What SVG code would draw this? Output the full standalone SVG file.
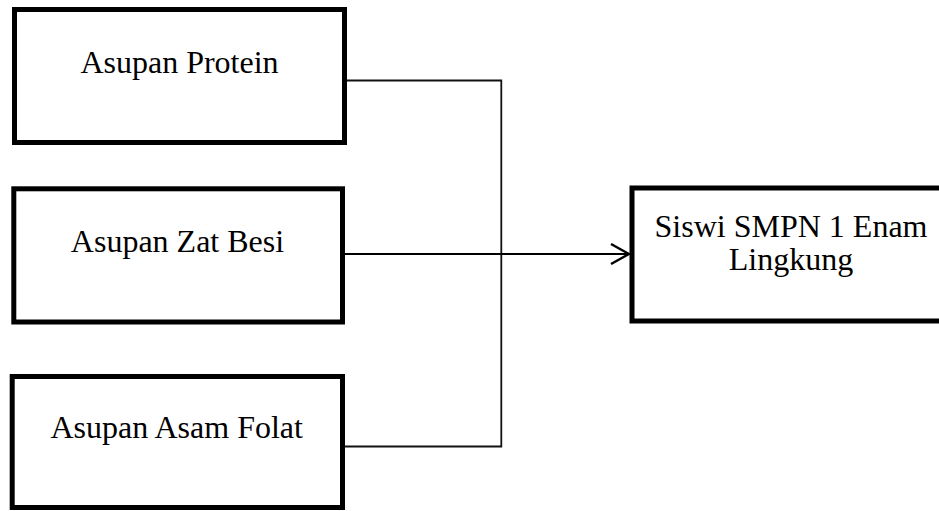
<svg xmlns="http://www.w3.org/2000/svg" width="939" height="511" viewBox="0 0 939 511">
<style>
.box{fill:#fff;stroke:#000;stroke-width:5}
.lbl{font-family:"Liberation Serif","Times New Roman",serif;font-size:32px;fill:#000;text-anchor:middle}
.con{fill:none;stroke:#111;stroke-width:1.8}
.arr{fill:none;stroke:#000;stroke-width:2.2}
</style>
<defs>
<marker id="open" viewBox="0 0 20 22" refX="19" refY="11" markerWidth="20" markerHeight="22" markerUnits="userSpaceOnUse" orient="auto">
<path d="M1,1 L19,11 L1,21" fill="none" stroke="#000" stroke-width="2.4"/>
</marker>
</defs>
<rect width="939" height="511" fill="#fff"/>
<g id="connectors">
<path class="con" d="M345,80.5 H501.3 V446.5 H345"/>
<path class="arr" d="M344,254 H629" marker-end="url(#open)"/>
</g>
<g id="node-protein">
<rect class="box" x="14.5" y="9.5" width="330" height="133"/>
<text class="lbl" x="179.5" y="72.7">Asupan Protein</text>
</g>
<g id="node-zatbesi">
<rect class="box" x="13.8" y="188.8" width="328.7" height="133.2"/>
<text class="lbl" x="177.5" y="252">Asupan Zat Besi</text>
</g>
<g id="node-folat">
<rect class="box" x="12.2" y="376.5" width="330.3" height="131"/>
<text class="lbl" x="176.7" y="437.5">Asupan Asam Folat</text>
</g>
<g id="node-siswi">
<rect class="box" x="632" y="188" width="340" height="133"/>
<text class="lbl" x="791" y="237">Siswi SMPN 1 Enam</text>
<text class="lbl" x="791" y="270">Lingkung</text>
</g>
</svg>
